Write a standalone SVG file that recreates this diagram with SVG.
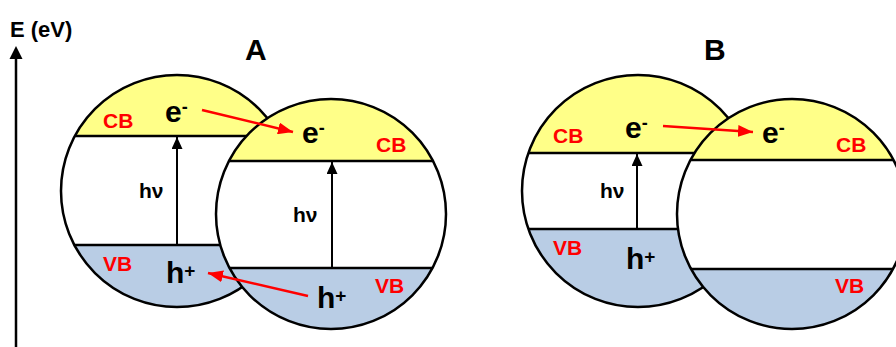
<svg xmlns="http://www.w3.org/2000/svg" width="896" height="347" viewBox="0 0 896 347">
<style>
text{font-family:"Liberation Sans",Arial,sans-serif;font-weight:bold}
.band{fill:#FFFF88}
.vb{fill:#B9CDE5}
.gap{fill:#FFFFFF}
.edge{fill:none;stroke:#000;stroke-width:2.5}
.lvl{stroke:#000;stroke-width:2.5}
.red{fill:#FF0000;font-size:21px}
.big{fill:#000;font-size:30px}
.hv{fill:#000;font-size:21px}
.ttl{fill:#000;font-size:30px}
.rarr{stroke:#FF0000;stroke-width:2.5;fill:none;marker-end:url(#rh)}
.karr{stroke:#000;stroke-width:2;fill:none;marker-end:url(#kh)}
</style>
<defs>
<marker id="rh" markerUnits="userSpaceOnUse" markerWidth="15" markerHeight="12" refX="15" refY="6" orient="auto"><path d="M0,0 L15,6 L0,12 z" fill="#FF0000"/></marker>
<marker id="kh" markerUnits="userSpaceOnUse" markerWidth="12" markerHeight="11" refX="12" refY="5.5" orient="auto"><path d="M0,0 L12,5.5 L0,11 z" fill="#000"/></marker>
<clipPath id="cA1"><circle cx="177" cy="191" r="116"/></clipPath>
<clipPath id="cA2"><circle cx="331" cy="214" r="115"/></clipPath>
<clipPath id="cB1"><circle cx="638" cy="191" r="116"/></clipPath>
<clipPath id="cB2"><circle cx="792" cy="214" r="115"/></clipPath>
</defs>
<rect width="896" height="347" fill="#FFFFFF"/>
<g id="axis">
<line x1="16" y1="347" x2="16" y2="58" stroke="#000" stroke-width="2.5"/>
<path d="M16,46 L22.5,59 L9.5,59 z" fill="#000"/>
<text x="10" y="37" style="font-size:22px">E (eV)</text>
</g>
<text id="titleA" class="ttl" x="245" y="60">A</text>
<text id="titleB" class="ttl" x="704" y="60">B</text>
<g id="A-left">
<g clip-path="url(#cA1)">
<rect class="band" x="60" y="74" width="234" height="62"/>
<rect class="gap" x="60" y="136" width="234" height="109"/>
<rect class="vb" x="60" y="245" width="234" height="64"/>
<line class="lvl" x1="60" y1="136" x2="294" y2="136"/>
<line class="lvl" x1="60" y1="245" x2="294" y2="245"/>
</g>
<circle class="edge" cx="177" cy="191" r="116"/>
<text class="red" x="103" y="128">CB</text>
<text class="red" x="103" y="271">VB</text>
<text class="big" x="165" y="122">e<tspan font-size="18" dy="-9">-</tspan></text>
<text class="hv" x="139" y="198">hν</text>
<text class="big" x="166" y="283">h<tspan font-size="19" dy="-6">+</tspan></text>
</g>
<g id="A-right">
<g clip-path="url(#cA2)">
<rect class="band" x="215" y="98" width="232" height="63"/>
<rect class="gap" x="215" y="161" width="232" height="107"/>
<rect class="vb" x="215" y="268" width="232" height="63"/>
<line class="lvl" x1="215" y1="161" x2="447" y2="161"/>
<line class="lvl" x1="215" y1="268" x2="447" y2="268"/>
</g>
<circle class="edge" cx="331" cy="214" r="115"/>
<text class="big" x="302" y="143">e<tspan font-size="18" dy="-9">-</tspan></text>
<text class="red" x="376" y="152">CB</text>
<text class="hv" x="293" y="222">hν</text>
<text class="big" x="317" y="308">h<tspan font-size="19" dy="-6">+</tspan></text>
<text class="red" x="375" y="293">VB</text>
</g>
<g id="B-left">
<g clip-path="url(#cB1)">
<rect class="band" x="521" y="74" width="234" height="79"/>
<rect class="gap" x="521" y="153" width="234" height="76"/>
<rect class="vb" x="521" y="229" width="234" height="80"/>
<line class="lvl" x1="521" y1="153" x2="755" y2="153"/>
<line class="lvl" x1="521" y1="229" x2="755" y2="229"/>
</g>
<circle class="edge" cx="638" cy="191" r="116"/>
<text class="red" x="553" y="143">CB</text>
<text class="big" x="625" y="138">e<tspan font-size="18" dy="-9">-</tspan></text>
<text class="hv" x="600" y="198">hν</text>
<text class="red" x="553" y="255">VB</text>
<text class="big" x="626" y="269">h<tspan font-size="19" dy="-6">+</tspan></text>
</g>
<g id="B-right">
<g clip-path="url(#cB2)">
<rect class="band" x="676" y="98" width="232" height="62"/>
<rect class="gap" x="676" y="160" width="232" height="109"/>
<rect class="vb" x="676" y="269" width="232" height="62"/>
<line class="lvl" x1="676" y1="160" x2="908" y2="160"/>
<line class="lvl" x1="676" y1="269" x2="908" y2="269"/>
</g>
<circle class="edge" cx="792" cy="214" r="115"/>
<text class="big" x="762" y="143">e<tspan font-size="18" dy="-9">-</tspan></text>
<text class="red" x="836" y="152">CB</text>
<text class="red" x="835" y="293">VB</text>
</g>
<g id="connectors">
<line class="karr" x1="177" y1="245" x2="177" y2="137"/>
<line class="karr" x1="332" y1="268" x2="332" y2="162"/>
<line class="karr" x1="637" y1="229" x2="637" y2="154"/>
<line class="rarr" x1="202" y1="110" x2="293" y2="132"/>
<line class="rarr" x1="308" y1="296" x2="208" y2="273"/>
<line class="rarr" x1="663" y1="126" x2="753" y2="132"/>
</g>
</svg>
